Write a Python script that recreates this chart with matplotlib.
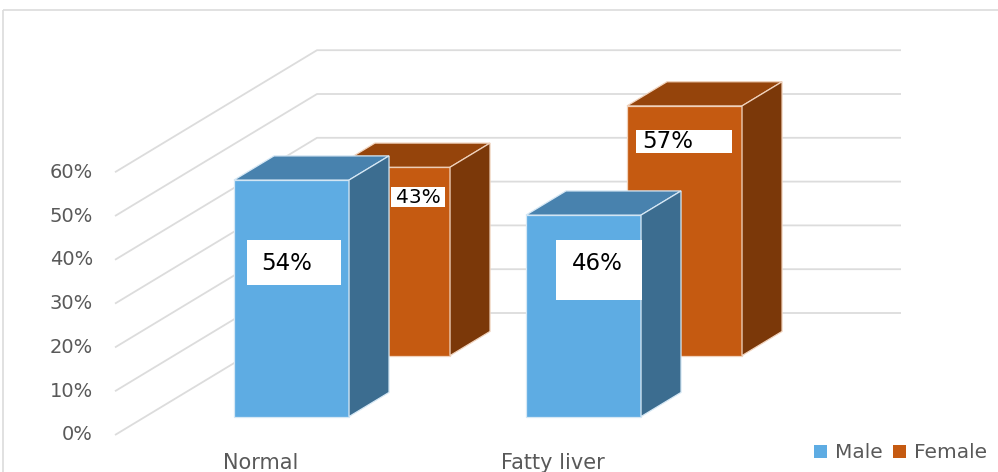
import matplotlib
matplotlib.use("Agg")
import matplotlib.pyplot as plt
from matplotlib.patches import Polygon, Rectangle, Patch

# ---- data -------------------------------------------------------------
categories = ["Normal", "Fatty liver"]
series_names = ["Male", "Female"]
male = [54, 46]
female = [43, 57]
value_ticks = [0, 10, 20, 30, 40, 50, 60]
tick_labels = [f"{v}%" for v in value_ticks]

# ---- styles -----------------------------------------------------------
male_colors = {"front": "#5EACE3", "top": "#4882AE", "side": "#3C6D90", "edge": "#D6E8F5"}
female_colors = {"front": "#C55A11", "top": "#95440B", "side": "#7B3809", "edge": "#F0D2BC"}
grid_color = "#DCDCDC"
text_color = "#595959"

# data-label boxes: (left, right, top, bottom, text_dx, text_dy, fontsize)
# offsets in pixels from the top-left corner of the bar's front face
male_label_style = [(13, 107, 60, 105, 53, 83, 16.5), (30, 116, 25, 85, 71, 48, 16.5)]
female_label_style = [(56, 110, 20, 40, 83, 30, 14.5), (9, 105, 24, 47, 41, 36, 16.5)]

W, H = 998, 472
fig = plt.figure(figsize=(W / 100, H / 100), dpi=100)
ax = fig.add_axes([0, 0, 1, 1])
ax.set_xlim(0, W)
ax.set_ylim(H, 0)
ax.axis("off")

# oblique projection of the 3-D plot box into pixel space
ORIGIN = (115.0, 435.0)   # front-left corner of the floor
CAT_W = 292.0             # width of one category slot
PX_PER_PCT = 4.38         # vertical pixels per percentage point
DEPTH = (202.0, -122.0)   # offset from the front plane to the back wall
BAR_HALF_W = 0.197        # half bar width, in category units
BAR_HALF_D = 0.099        # half bar depth, in depth units
n_cat = len(categories)
n_ser = len(series_names)


def proj(x, d, v):
    """x: category units, d: depth fraction 0..1, v: value in percent."""
    return (ORIGIN[0] + x * CAT_W + d * DEPTH[0],
            ORIGIN[1] - v * PX_PER_PCT + d * DEPTH[1])


# chart frame
ax.add_patch(Rectangle((3, 10), W + 10, H + 10, fill=False, edgecolor=grid_color, lw=1.2))

# gridlines on side wall and back wall
for v in value_ticks:
    p0, p1, p2 = proj(0, 0, v), proj(0, 1, v), proj(n_cat, 1, v)
    ax.plot([p0[0], p1[0], p2[0]], [p0[1], p1[1], p2[1]], color=grid_color, lw=1.3,
            solid_capstyle="butt", zorder=1)

# value axis labels
for v, lab in zip(value_ticks, tick_labels):
    px, py = proj(0, 0, v)
    ax.text(px - 22, py, lab, ha="right", va="center", fontsize=14, color=text_color)

# category labels
for i, cat in enumerate(categories):
    px, _ = proj(i + 0.5, 0, 0)
    ax.text(px, 463, cat, ha="center", va="center", fontsize=15, color=text_color)


def draw_bar(i, s, v, colors, style, z):
    x0, x1 = i + 0.5 - BAR_HALF_W, i + 0.5 + BAR_HALF_W
    dc = (s + 0.5) / n_ser
    d0, d1 = dc - BAR_HALF_D, dc + BAR_HALF_D
    front = [proj(x0, d0, 0), proj(x1, d0, 0), proj(x1, d0, v), proj(x0, d0, v)]
    top = [proj(x0, d0, v), proj(x1, d0, v), proj(x1, d1, v), proj(x0, d1, v)]
    side = [proj(x1, d0, 0), proj(x1, d1, 0), proj(x1, d1, v), proj(x1, d0, v)]
    for pts, key in ((front, "front"), (top, "top"), (side, "side")):
        ax.add_patch(Polygon(pts, closed=True, facecolor=colors[key],
                             edgecolor=colors["edge"], lw=0.9, zorder=z))
    # data label
    fx, fy = proj(x0, d0, v)
    l, r, t, b, tdx, tdy, fs = style
    ax.add_patch(Rectangle((fx + l, fy + t), r - l, b - t, facecolor="white",
                           edgecolor="none", zorder=z + 0.1))
    ax.text(fx + tdx, fy + tdy, f"{v}%", ha="center", va="center", fontsize=fs,
            color="black", zorder=z + 0.2)


# paint back-to-front: the rear series first
for i in range(n_cat):
    draw_bar(i, 1, female[i], female_colors, female_label_style[i], 3 + i)
for i in range(n_cat):
    draw_bar(i, 0, male[i], male_colors, male_label_style[i], 6 + i)

handles = [Patch(facecolor=male_colors["front"], edgecolor="none", label=series_names[0]),
           Patch(facecolor=female_colors["front"], edgecolor="none", label=series_names[1])]
leg = ax.legend(handles=handles, loc="center right", bbox_to_anchor=(987 / W, 1 - 453 / H),
                ncol=2, frameon=False, fontsize=14.5, handlelength=0.65, handleheight=0.65,
                handletextpad=0.4, columnspacing=0.5, borderpad=0, borderaxespad=0)
for t in leg.get_texts():
    t.set_color(text_color)

fig.savefig("out.png", dpi=100)
